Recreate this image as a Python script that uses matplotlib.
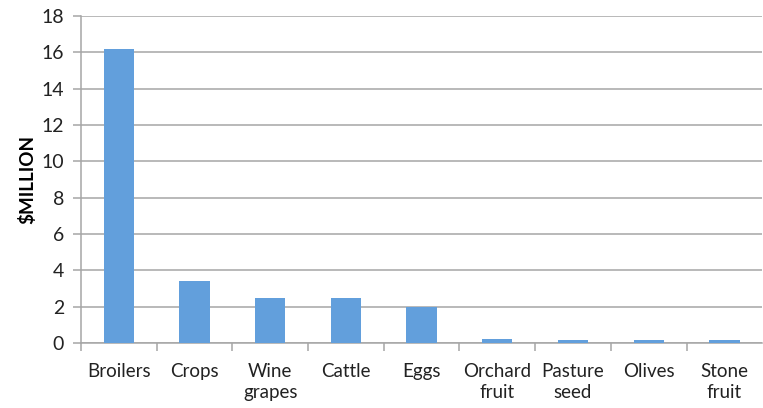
import numpy as np
import matplotlib
matplotlib.use("Agg")
from matplotlib import pyplot as plt

# commodity values ($ million)
categories = ["Broilers", "Crops", "Wine\ngrapes", "Cattle", "Eggs",
              "Orchard\nfruit", "Pasture\nseed", "Olives", "Stone\nfruit"]
values = [16.2, 3.4, 2.5, 2.5, 2.0, 0.25, 0.18, 0.18, 0.18]
yticks = [0, 2, 4, 6, 8, 10, 12, 14, 16, 18]

plt.rcParams['font.family'] = ['Lato', 'DejaVu Sans']

fig = plt.figure(figsize=(7.63, 4.08), dpi=100)
ax = fig.add_axes([0.106, 0.159, 0.893, 0.802])

grid_col = "#a6a6a6"
x = np.arange(len(categories))
ax.bar(x, values, width=0.4, color="#629fdc", zorder=3)

ax.set_xlim(-0.5, len(categories) - 0.5)
ax.set_ylim(0, 18)
ax.set_yticks(yticks)
ax.set_yticklabels([str(t) for t in yticks], fontsize=14, color="#222222")
ax.yaxis.grid(True, color=grid_col, linewidth=1.1, zorder=0)

# category labels centred, ticks on boundaries
ax.set_xticks(x)
ax.set_xticklabels(categories, fontsize=13.5, color="#222222", linespacing=1.3)
ax.tick_params(axis="x", length=0, pad=14)
ax.set_xticks(np.arange(len(categories)) - 0.5, minor=True)
ax.tick_params(axis="x", which="minor", length=6, color=grid_col, width=1.1)
ax.tick_params(axis="y", length=6, color=grid_col, width=1.1, pad=6)

for s in ["top", "right"]:
    ax.spines[s].set_visible(False)
for s in ["left", "bottom"]:
    ax.spines[s].set_color(grid_col)
    ax.spines[s].set_linewidth(1.1)

ax.set_ylabel("$MILLION", fontsize=13.5, fontweight="bold", labelpad=4)

fig.savefig("out.png", dpi=100)
